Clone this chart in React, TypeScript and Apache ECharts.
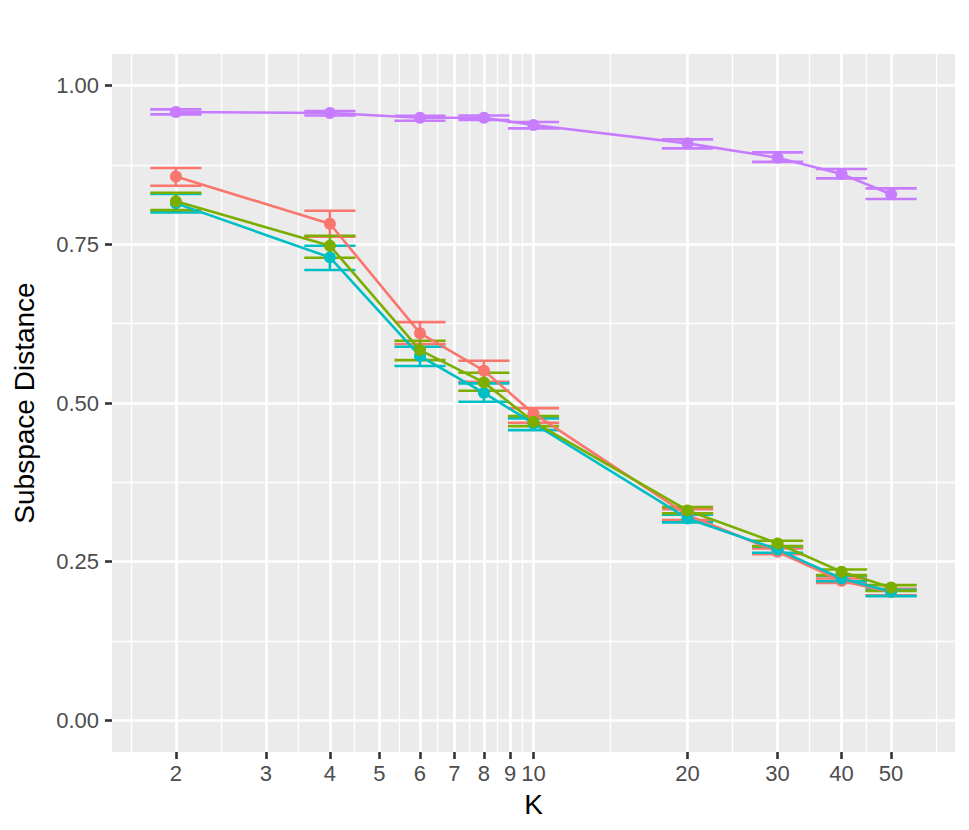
import React, { useEffect, useRef } from "react";
import * as echarts from "echarts";

// ---- data ----
const K = [2, 4, 6, 8, 10, 20, 30, 40, 50];

const redMean = [0.857, 0.7825, 0.61, 0.551, 0.4836, 0.3233, 0.2655, 0.2197, 0.202];
const redLo = [0.8424, 0.762, 0.5929, 0.5334, 0.4688, 0.3154, 0.2618, 0.2166, 0.197];
const redHi = [0.8703, 0.803, 0.6275, 0.5665, 0.492, 0.3328, 0.2708, 0.2235, 0.207];

const greenMean = [0.8178, 0.7478, 0.5834, 0.5325, 0.4704, 0.3307, 0.2787, 0.234, 0.2093];
const greenLo = [0.804, 0.7289, 0.5676, 0.5192, 0.4636, 0.326, 0.2744, 0.2287, 0.204];
const greenHi = [0.8313, 0.7636, 0.598, 0.5476, 0.4793, 0.336, 0.2828, 0.2377, 0.213];

const cyanMean = [0.8146, 0.7295, 0.574, 0.516, 0.4678, 0.318, 0.269, 0.2235, 0.2024];
const cyanLo = [0.8004, 0.7095, 0.5582, 0.5019, 0.4573, 0.3118, 0.264, 0.219, 0.1956];
const cyanHi = [0.8293, 0.7478, 0.5886, 0.5309, 0.4757, 0.324, 0.274, 0.228, 0.2055];

const purpleMean = [0.9585, 0.957, 0.9496, 0.9496, 0.938, 0.9092, 0.8866, 0.8608, 0.829];
const purpleLo = [0.9549, 0.953, 0.9448, 0.946, 0.9328, 0.9013, 0.88, 0.854, 0.8214];
const purpleHi = [0.9628, 0.96, 0.9527, 0.953, 0.9428, 0.9155, 0.895, 0.8687, 0.8383];

const X_BREAKS = [2, 3, 4, 5, 6, 7, 8, 9, 10, 20, 30, 40, 50];
const Y_BREAKS = [0, 0.25, 0.5, 0.75, 1];
const Y_MINOR = [0.125, 0.375, 0.625, 0.875];
const Y_LIMITS = [-0.05, 1.05];

const GROUPS = [
  { name: "red", color: "#F8766D", mean: redMean, lo: redLo, hi: redHi },
  { name: "cyan", color: "#00BFC4", mean: cyanMean, lo: cyanLo, hi: cyanHi },
  { name: "green", color: "#7CAE00", mean: greenMean, lo: greenLo, hi: greenHi },
  { name: "purple", color: "#C77CFF", mean: purpleMean, lo: purpleLo, hi: purpleHi },
];

const ERR_HALF = 0.05; // half errorbar width in log10 units
const FONT = "'Liberation Sans', Arial, Helvetica, sans-serif";

const log10 = (v: number) => Math.log10(v);

export default function App() {
  const ref = useRef<HTMLDivElement>(null);

  useEffect(() => {
    if (!ref.current) return;
    const chart = echarts.init(ref.current, undefined, { renderer: "svg" });

    const majorLogs = X_BREAKS.map(log10);
    const bd = majorLogs[1] - majorLogs[0];
    const ext = [majorLogs[0] - bd, ...majorLogs, majorLogs[majorLogs.length - 1] + bd];
    const minorLogs: number[] = [];
    for (let i = 0; i < ext.length - 1; i++) minorLogs.push((ext[i] + ext[i + 1]) / 2);

    const lo = log10(K[0]) - ERR_HALF;
    const hi = log10(K[K.length - 1]) + ERR_HALF;
    const xMin = lo - 0.05 * (hi - lo);
    const xMax = hi + 0.05 * (hi - lo);

    const errSeries = GROUPS.map((g) => ({
      type: "custom",
      name: g.name + "-err",
      xAxisIndex: 0,
      yAxisIndex: 0,
      z: 2,
      data: K.map((k, i) => [log10(k), g.lo[i], g.hi[i]]),
      renderItem: (params: any, api: any) => {
        const x = api.value(0);
        const l = api.value(1);
        const h = api.value(2);
        const a = api.coord([x - ERR_HALF, h]);
        const b = api.coord([x + ERR_HALF, h]);
        const c = api.coord([x - ERR_HALF, l]);
        const d = api.coord([x + ERR_HALF, l]);
        const m1 = api.coord([x, h]);
        const m2 = api.coord([x, l]);
        const style = { stroke: g.color, lineWidth: 2.6, fill: null };
        return {
          type: "group",
          children: [
            { type: "line", shape: { x1: a[0], y1: a[1], x2: b[0], y2: b[1] }, style },
            { type: "line", shape: { x1: m1[0], y1: m1[1], x2: m2[0], y2: m2[1] }, style },
            { type: "line", shape: { x1: c[0], y1: c[1], x2: d[0], y2: d[1] }, style },
          ],
        };
      },
    }));

    const lineSeries = GROUPS.map((g) => ({
      type: "line",
      name: g.name,
      xAxisIndex: 0,
      yAxisIndex: 0,
      z: 3,
      data: K.map((k, i) => [log10(k), g.mean[i]]),
      symbol: "circle",
      symbolSize: 12,
      showAllSymbol: true,
      lineStyle: { color: g.color, width: 2.6 },
      itemStyle: { color: g.color, borderWidth: 0 },
      emphasis: { disabled: true },
    }));

    const labelStyle = { color: "#4D4D4D", fontSize: 22, fontFamily: FONT };

    chart.setOption({
      animation: false,
      backgroundColor: "#FFFFFF",
      grid: {
        left: 112,
        right: 14,
        top: 54,
        bottom: 78,
        show: true,
        backgroundColor: "#EBEBEB",
        borderWidth: 0,
      },
      xAxis: [
        {
          type: "value",
          min: xMin,
          max: xMax,
          position: "bottom",
          name: "K",
          nameLocation: "middle",
          nameGap: 38,
          nameTextStyle: { color: "#000000", fontSize: 28, fontFamily: FONT },
          axisLine: { show: false, onZero: false },
          axisTick: {
            show: true,
            length: 7,
            customValues: majorLogs,
            lineStyle: { color: "#333333", width: 2.6 },
          },
          axisLabel: {
            ...labelStyle,
            margin: 10,
            customValues: majorLogs,
            formatter: (v: number) => String(Math.round(Math.pow(10, v))),
          },
          splitLine: { show: true, lineStyle: { color: "#FFFFFF", width: 2.6 } },
          z: 1,
        },
        {
          type: "value",
          min: xMin,
          max: xMax,
          position: "top",
          axisLine: { show: false, onZero: false },
          axisTick: { show: false, customValues: minorLogs },
          axisLabel: { show: false, customValues: minorLogs },
          splitLine: { show: true, lineStyle: { color: "#FFFFFF", width: 1.3 } },
          z: 0,
        },
      ],
      yAxis: [
        {
          type: "value",
          min: Y_LIMITS[0],
          max: Y_LIMITS[1],
          name: "Subspace Distance",
          nameLocation: "middle",
          nameRotate: 90,
          nameGap: 74,
          nameTextStyle: { color: "#000000", fontSize: 28, fontFamily: FONT },
          axisLine: { show: false, onZero: false },
          axisTick: {
            show: true,
            length: 7,
            customValues: Y_BREAKS,
            lineStyle: { color: "#333333", width: 2.6 },
          },
          axisLabel: {
            ...labelStyle,
            margin: 13,
            customValues: Y_BREAKS,
            formatter: (v: number) => v.toFixed(2),
          },
          splitLine: { show: true, lineStyle: { color: "#FFFFFF", width: 2.6 } },
          z: 1,
        },
        {
          type: "value",
          min: Y_LIMITS[0],
          max: Y_LIMITS[1],
          position: "right",
          axisLine: { show: false, onZero: false },
          axisTick: { show: false, customValues: Y_MINOR },
          axisLabel: { show: false, customValues: Y_MINOR },
          splitLine: { show: true, lineStyle: { color: "#FFFFFF", width: 1.3 } },
          z: 0,
        },
      ],
      series: [...errSeries, ...lineSeries],
    });

    return () => chart.dispose();
  }, []);

  return (
    <div
      ref={ref}
      style={{ position: "absolute", left: 0, top: 0, width: 969, height: 830 }}
    />
  );
}
